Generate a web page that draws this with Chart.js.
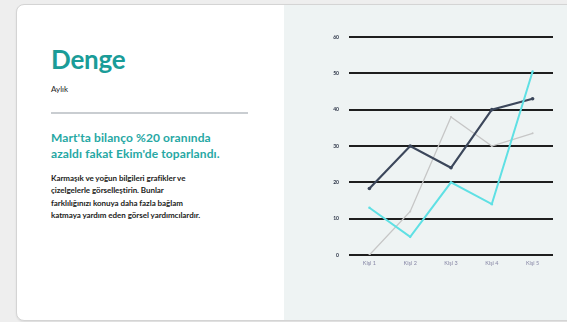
<!DOCTYPE html>
<html lang="tr">
<head>
<meta charset="utf-8">
<script src="https://cdn.jsdelivr.net/npm/chart.js@4/dist/chart.umd.min.js"></script>
<style>
  html, body { margin: 0; padding: 0; }
  body { width: 567px; height: 322px; background: #eeeeee; position: relative; overflow: hidden; font-family: Lato, "Open Sans", sans-serif; }
  .card { position: absolute; left: 16px; top: 4px; width: 570px; height: 315px; background: #ffffff; border: 1px solid #d4d4d4; border-radius: 8px; overflow: hidden; box-shadow: 0 1px 2px rgba(0,0,0,0.08); }
  .panel { position: absolute; left: 267px; top: 0; right: 0; bottom: 0; background: #eef3f3; }
  .title { position: absolute; left: 34px; top: 39px; font-size: 26px; font-weight: 700; color: #1a9c98; letter-spacing: -0.2px; line-height: 30px; margin: 0; }
  .sub { position: absolute; left: 34px; top: 79px; font-size: 8px; color: #1c1c1c; }
  .rule { position: absolute; left: 34px; top: 107px; width: 197px; height: 1.5px; background: #c9cdd1; }
  .lead { position: absolute; left: 34px; top: 125px; white-space: nowrap; font-size: 12px; font-weight: 700; line-height: 16px; color: #27a8a4; letter-spacing: 0.1px; }
  .body { position: absolute; left: 34px; top: 167px; white-space: nowrap; font-size: 8px; font-weight: 700; line-height: 12.3px; color: #221c1a; letter-spacing: -0.05px; }
  .chartbox { position: absolute; left: 320px; top: 20px; width: 240px; height: 260px; }
</style>
</head>
<body>
<div class="card">
  <div class="panel"></div>
  <h1 class="title">Denge</h1>
  <div class="sub">Aylık</div>
  <div class="rule"></div>
  <div class="lead">Mart'ta bilanço %20 oranında<br>azaldı fakat Ekim'de toparlandı.</div>
  <div class="body">Karmaşık ve yoğun bilgileri grafikler ve<br>çizelgelerle görselleştirin. Bunlar<br>farklılığınızı konuya daha fazla bağlam<br>katmaya yardım eden görsel yardımcılardır.</div>
</div>
<div class="chartbox"><canvas id="chart"></canvas></div>
<script>
// Categories and series values
const categories = ["Kişi 1", "Kişi 2", "Kişi 3", "Kişi 4", "Kişi 5"];
const seriesDark = [18.3, 30, 24, 40, 43];
const seriesGray = [0, 12, 38, 30, 33.5];
const seriesCyan = [13, 5, 20, 14, 50.5];
const yTicks = [0, 10, 20, 30, 40, 50, 60];

new Chart(document.getElementById("chart"), {
  type: "line",
  data: {
    labels: categories,
    datasets: [
      { label: "C", data: seriesCyan, borderColor: "#5fe0e4", backgroundColor: "#5fe0e4", borderWidth: 2, pointRadius: 1.2, pointBorderWidth: 0, pointHoverRadius: 1.2, tension: 0 },
      { label: "A", data: seriesDark, borderColor: "#3c475b", backgroundColor: "#3c475b", borderWidth: 2.2, pointRadius: 1.8, pointBorderWidth: 0, pointHoverRadius: 1.8, tension: 0 },
      { label: "B", data: seriesGray, borderColor: "#c6c6c6", backgroundColor: "#c6c6c6", borderWidth: 1.3, pointRadius: 1, pointBorderWidth: 0, pointHoverRadius: 1, tension: 0 }
    ]
  },
  options: {
    responsive: true,
    maintainAspectRatio: false,
    animation: false,
    layout: { padding: { top: 17, right: 7, bottom: 0, left: 0 } },
    plugins: { legend: { display: false }, tooltip: { enabled: false } },
    scales: {
      x: {
        offset: true,
        grid: { display: false, drawTicks: false },
        border: { display: false },
        ticks: { color: "#8787a6", font: { family: "Lato", size: 5.5 }, padding: 5, maxRotation: 0 },
        afterFit: (s) => { s.height = 25; }
      },
      y: {
        min: 0,
        max: 60,
        afterBuildTicks: (s) => { s.ticks = yTicks.map(v => ({ value: v })); },
        grid: { color: "#1e1e1e", lineWidth: 2, drawTicks: false },
        border: { display: false },
        ticks: { color: "#2a3245", font: { family: "Lato", size: 5, weight: "bold" }, padding: 10 },
        afterFit: (s) => { s.width = 29; }
      }
    }
  }
});
</script>
</body>
</html>
